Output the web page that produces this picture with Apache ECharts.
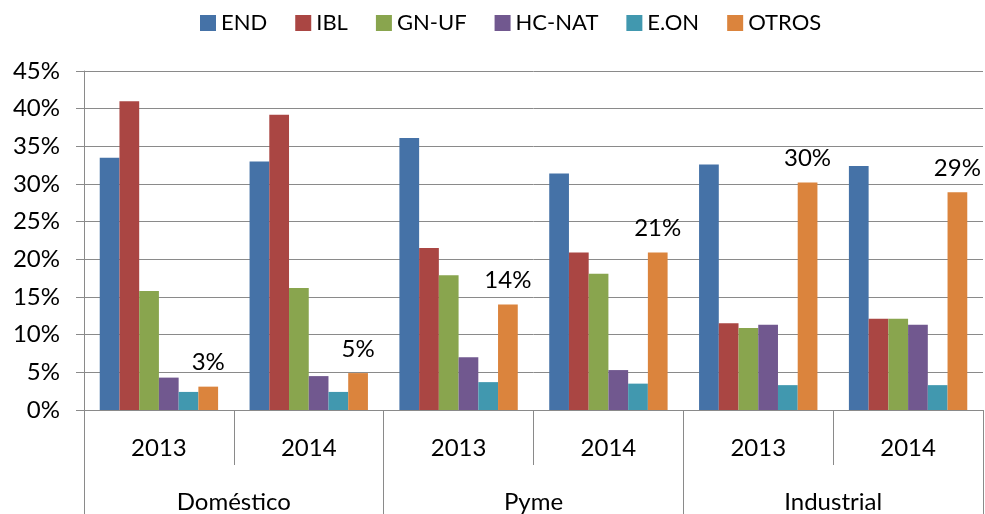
<!DOCTYPE html>
<html>
<head>
<meta charset="utf-8">
<script src="https://cdn.jsdelivr.net/npm/echarts@6/dist/echarts.min.js"></script>
<style>html,body{margin:0;padding:0;background:#fff;}#c{width:985px;height:514px;}</style>
</head>
<body>
<div id="c"></div>
<script>
const years = ['2013', '2014', '2013', '2014', '2013', '2014'];
const groups = ['Doméstico', 'Pyme', 'Industrial'];
const seriesNames = ['END', 'IBL', 'GN-UF', 'HC-NAT', 'E.ON', 'OTROS'];
const END = [33.5, 33.0, 36.1, 31.4, 32.6, 32.4];
const IBL = [41.0, 39.2, 21.5, 20.9, 11.5, 12.1];
const GNUF = [15.8, 16.2, 17.9, 18.1, 10.9, 12.1];
const HCNAT = [4.3, 4.5, 7.0, 5.3, 11.3, 11.3];
const EON = [2.4, 2.4, 3.7, 3.5, 3.3, 3.3];
const OTROS = [3.1, 4.9, 14.0, 20.9, 30.2, 28.9];
const yTicks = [0, 5, 10, 15, 20, 25, 30, 35, 40, 45];

const colors = ['#4572A7', '#AA4643', '#89A54E', '#71588F', '#4198AF', '#DB843D'];
const values = [END, IBL, GNUF, HCNAT, EON, OTROS];
const FONT = 'Lato, "Open Sans", sans-serif';
const gridColor = '#8a8a8a';

const chart = echarts.init(document.getElementById('c'), null, {renderer: 'canvas'});
chart.setOption({
  animation: false,
  color: colors,
  textStyle: {fontFamily: FONT},
  legend: {
    top: 7,
    left: 195,
    itemWidth: 16,
    itemHeight: 16,
    itemGap: 28,
    icon: 'rect',
    textStyle: {fontSize: 22, color: '#000', fontFamily: FONT},
    data: seriesNames
  },
  grid: {left: 84, right: 2, top: 71, bottom: 104},
  xAxis: [
    {
      type: 'category',
      data: years,
      position: 'bottom',
      axisLine: {show: true, lineStyle: {color: gridColor, width: 1}},
      axisTick: {show: true, length: 55, lineStyle: {color: gridColor}},
      axisLabel: {fontSize: 24, color: '#000', margin: 26, fontFamily: FONT}
    },
    {
      type: 'category',
      data: groups,
      position: 'bottom',
      axisLine: {show: false},
      axisTick: {show: true, length: 104, lineStyle: {color: gridColor}},
      axisLabel: {fontSize: 24, color: '#000', margin: 80, fontFamily: FONT}
    }
  ],
  yAxis: {
    type: 'value',
    min: 0,
    max: 45,
    interval: 5,
    axisLine: {show: true, lineStyle: {color: gridColor}},
    axisTick: {show: true, length: 8, lineStyle: {color: gridColor}},
    axisLabel: {fontSize: 24, color: '#000', margin: 24, fontFamily: FONT,
      formatter: v => yTicks.includes(v) ? v + '%' : ''},
    splitLine: {show: true, lineStyle: {color: gridColor, width: 1}}
  },
  series: seriesNames.map((n, i) => ({
    name: n,
    type: 'bar',
    xAxisIndex: 0,
    data: values[i],
    barGap: '0%',
    barCategoryGap: '21%',
    itemStyle: {color: colors[i]},
    label: i === 5 ? {
      show: true,
      position: 'top',
      distance: 12,
      fontSize: 24,
      color: '#000',
      fontFamily: FONT,
      formatter: p => Math.round(p.value) + '%'
    } : {show: false}
  }))
});
</script>
</body>
</html>
